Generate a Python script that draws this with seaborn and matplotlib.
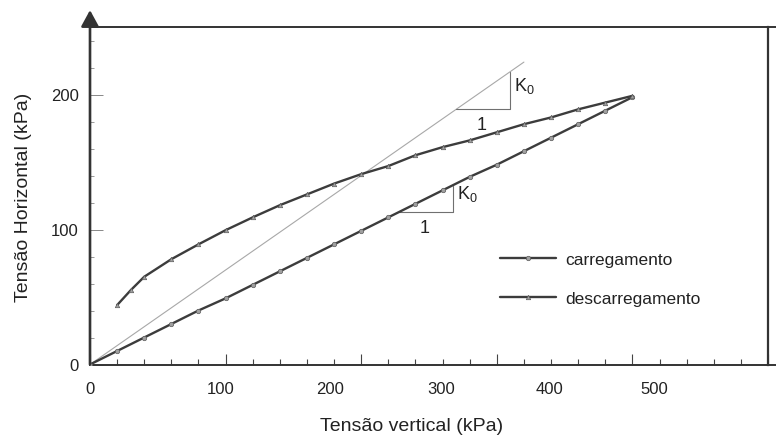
import matplotlib
matplotlib.use("Agg")
import matplotlib.pyplot as plt
import seaborn as sns
import pandas as pd
from matplotlib.ticker import MultipleLocator, FixedLocator, NullFormatter

# Loading path (carregamento): vertical vs horizontal stress, kPa
carreg_sv = [0, 20, 40, 60, 80, 100, 120, 140, 160, 180, 200,
             220, 240, 260, 280, 300, 320, 340, 360, 380, 400]
carreg_sh = [0, 10, 20, 30, 40, 49, 59, 69, 79, 89, 99,
             109, 119, 129, 139, 148, 158, 168, 178, 188, 198]

# Unloading path (descarregamento)
descarreg_sv = [400, 380, 360, 340, 320, 300, 280, 260, 240, 220, 200,
                180, 160, 140, 120, 100, 80, 60, 40, 30, 20]
descarreg_sh = [199, 194, 189, 183, 178, 172, 166, 161, 155, 147, 141,
                134, 126, 118, 109, 99.5, 89, 78, 65, 55, 44]

# K0 reference line through the origin
k0_sv = [0, 320]
k0_sh = [0, 224]

# Slope triangles (horizontal leg x0..x1 at y0, vertical leg up to y1)
tri_upper = dict(x=[270, 310], y=[189, 217])
tri_lower = dict(x=[228, 268], y=[113, 132.5])

x_tick_labels = ["0", "100", "200", "300", "400", "500"]
x_tick_label_pos = [0, 96, 177, 259, 339, 416]
y_tick_values = [0, 100, 200]

sns.set_style("white")
plt.rcParams["font.family"] = ["Liberation Sans", "DejaVu Sans"]
plt.rcParams["mathtext.fontset"] = "custom"
plt.rcParams["mathtext.rm"] = "Liberation Sans"

fig = plt.figure(figsize=(7.76, 4.39), dpi=100)
ax = fig.add_axes([90 / 776, 73.5 / 439, 678 / 776, 337.5 / 439])

line_col = "#3c3c3c"
df_c = pd.DataFrame({"sv": carreg_sv, "sh": carreg_sh})
df_d = pd.DataFrame({"sv": descarreg_sv, "sh": descarreg_sh})

ax.plot(k0_sv, k0_sh, color="#a8a8a8", lw=0.8, zorder=1)

sns.lineplot(data=df_c, x="sv", y="sh", ax=ax, color=line_col, lw=1.7,
             marker="o", markersize=3.2, markerfacecolor="#a0a0a0",
             markeredgecolor="#5a5a5a", markeredgewidth=0.5,
             estimator=None, sort=False, label="carregamento", zorder=3)
sns.lineplot(data=df_d, x="sv", y="sh", ax=ax, color=line_col, lw=1.7,
             marker="^", markersize=3.2, markerfacecolor="#a0a0a0",
             markeredgecolor="#5a5a5a", markeredgewidth=0.5,
             estimator=None, sort=False, label="descarregamento", zorder=3)

for tri in (tri_upper, tri_lower):
    x0, x1 = tri["x"]
    y0, y1 = tri["y"]
    ax.plot([x0, x1, x1], [y0, y0, y1], color="#707070", lw=0.8, zorder=2)

# K0 / 1 annotations of the triangles
for tri in (tri_upper, tri_lower):
    x0, x1 = tri["x"]
    y0, y1 = tri["y"]
    ax.text(x1 + 3, (y0 + y1) / 2 + 4, r"$\mathregular{K_0}$", fontsize=13,
            ha="left", va="center", color="#222222")
    ax.text((x0 + x1) / 2 - 1, y0 - 5, "1", fontsize=13,
            ha="center", va="top", color="#222222")

ax.set_xlim(0, 500)
ax.set_ylim(0, 250)

# Frame
for side in ("top", "right", "bottom"):
    ax.spines[side].set_visible(True)
    ax.spines[side].set_color("#333333")
ax.spines["top"].set_linewidth(1.4)
ax.spines["right"].set_linewidth(1.6)
ax.spines["bottom"].set_linewidth(1.4)
ax.spines["left"].set_visible(False)
# top and bottom rules run slightly past the right border
for yy in (0, 1):
    ax.plot([1.0, 1.02], [yy, yy], transform=ax.transAxes, color="#333333",
            lw=1.4, clip_on=False, solid_capstyle="butt")
ax.annotate("", xy=(0, 1.05), xytext=(0, 0), xycoords="axes fraction",
            textcoords="axes fraction",
            arrowprops=dict(arrowstyle="-|>,head_length=0.55,head_width=0.3",
                            lw=1.9, color="#333333", mutation_scale=18,
                            shrinkA=0, shrinkB=0))

# Tick marks on the vertical-stress axis
ax.xaxis.set_major_locator(MultipleLocator(100))
ax.xaxis.set_minor_locator(MultipleLocator(20))
ax.xaxis.set_major_formatter(NullFormatter())
ax.tick_params(axis="x", which="major", direction="in", length=8, width=0.8,
               color="#444444", bottom=True, top=False)
ax.tick_params(axis="x", which="minor", direction="in", length=4, width=0.8,
               color="#444444", bottom=True, top=False)

# Tick labels along the vertical-stress axis
sec = ax.secondary_xaxis("bottom")
sec.set_xticks(x_tick_label_pos)
sec.set_xticklabels(x_tick_labels)
sec.tick_params(length=0, pad=12, labelsize=12, labelcolor="#222222")
sec.spines["bottom"].set_visible(False)

ax.yaxis.set_major_locator(FixedLocator(y_tick_values))
ax.yaxis.set_minor_locator(MultipleLocator(20))
ax.tick_params(axis="y", which="major", direction="in", length=9, width=0.7,
               color="#888888", left=True, labelsize=12, labelcolor="#222222", pad=8)
ax.tick_params(axis="y", which="minor", direction="in", length=3, width=0.7,
               color="#999999", left=True)

ax.set_xlabel("Tensão vertical (kPa)", fontsize=14, color="#222222", labelpad=0)
ax.xaxis.set_label_coords((412 - 90) / 678, -(418 - 365.5) / 337.5)
ax.set_ylabel("Tensão Horizontal (kPa)", fontsize=14, color="#222222")
ax.yaxis.set_label_coords(-(90 - 32) / 678, (365.5 - 197) / 337.5)

leg = ax.legend(loc="center left", bbox_to_anchor=((500 - 90) / 678, (365.5 - 280) / 337.5),
                frameon=False, fontsize=12.5, handlelength=3.2, handletextpad=0.55,
                labelspacing=1.4, borderpad=0, borderaxespad=0)
for t in leg.get_texts():
    t.set_color("#222222")

fig.savefig("out.png", dpi=100, facecolor="white")
